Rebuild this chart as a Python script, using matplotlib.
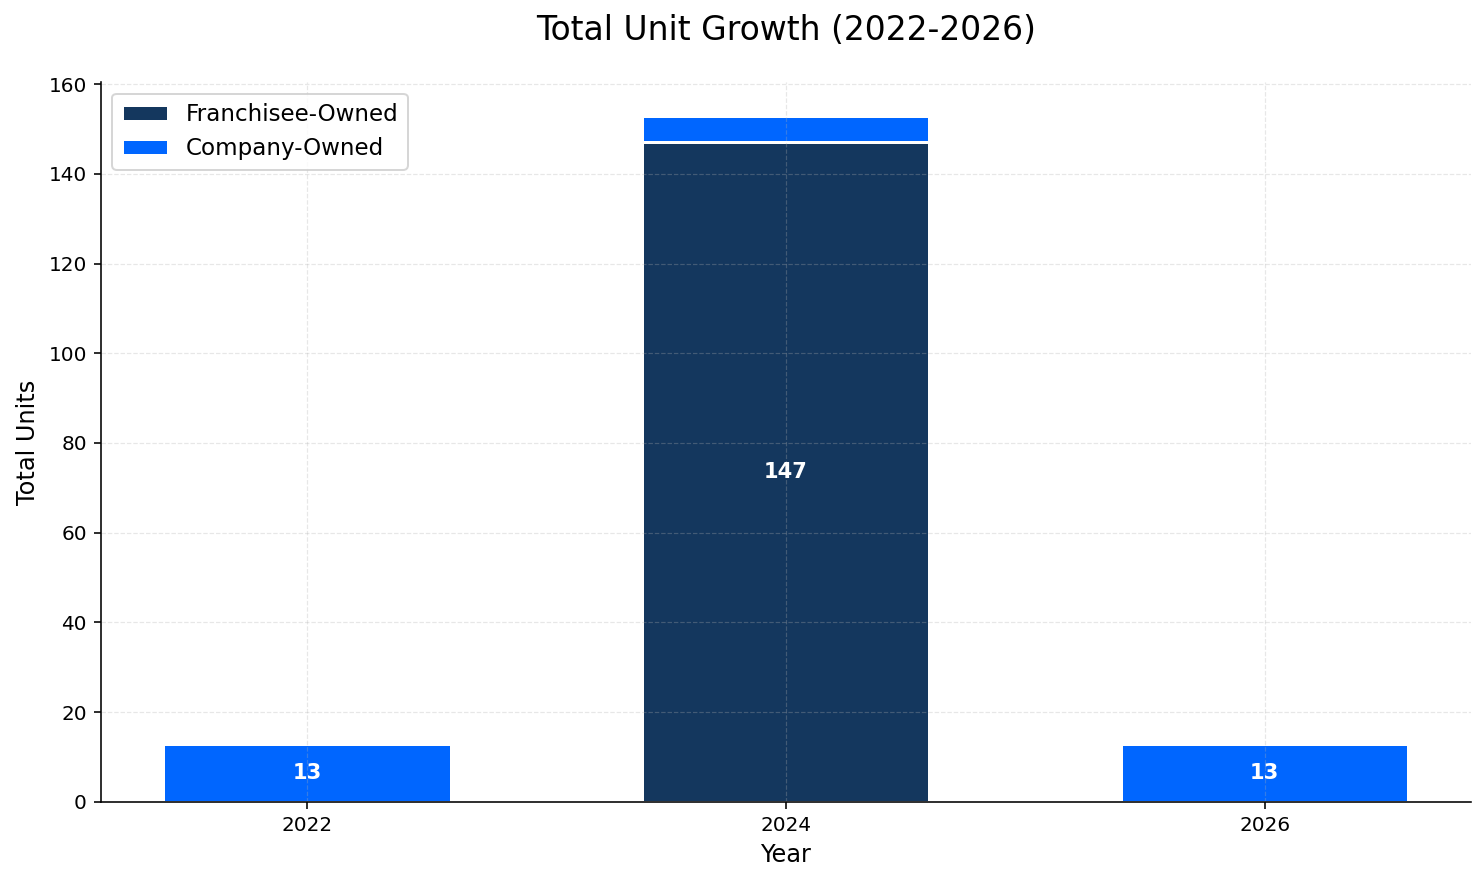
import matplotlib
matplotlib.use("Agg")
import matplotlib.pyplot as plt
import numpy as np

years = [2022, 2024, 2026]
franchisee = [0, 147, 0]
company = [12.8, 5.8, 12.8]

fig, ax = plt.subplots(figsize=(1484 / 144, 884 / 144), dpi=144)
fig.subplots_adjust(left=0.068, right=0.991, top=0.907, bottom=0.093)

b1 = ax.bar(years, franchisee, width=1.2, color='#14375E', edgecolor='white',
            linewidth=1.5, label='Franchisee-Owned')
b2 = ax.bar(years, company, width=1.2, bottom=franchisee, color='#0066FF',
            edgecolor='white', linewidth=1.5, label='Company-Owned')

# labels only on the larger segments
for bars, vals, base in [(b1, franchisee, [0] * 3), (b2, company, franchisee)]:
    for rect, v, b in zip(bars, vals, base):
        if v >= 10:
            ax.text(rect.get_x() + rect.get_width() / 2, b + v / 2, f"{v:.0f}",
                    ha='center', va='center', color='white', fontsize=10.5,
                    fontweight='bold')

ax.set_xticks(years)
ax.set_xticklabels([str(y) for y in years])
ax.tick_params(labelsize=10)
ax.set_xlabel('Year', fontsize=12)
ax.set_ylabel('Total Units', fontsize=12)
ax.set_title('Total Unit Growth (2022-2026)', fontsize=16.5, pad=21)
ax.grid(True, linestyle='--', alpha=0.3, linewidth=0.6)
for s in ['top', 'right']:
    ax.spines[s].set_visible(False)
ax.legend(loc='upper left', fontsize=11.5)

fig.savefig('out.png', dpi=144)
